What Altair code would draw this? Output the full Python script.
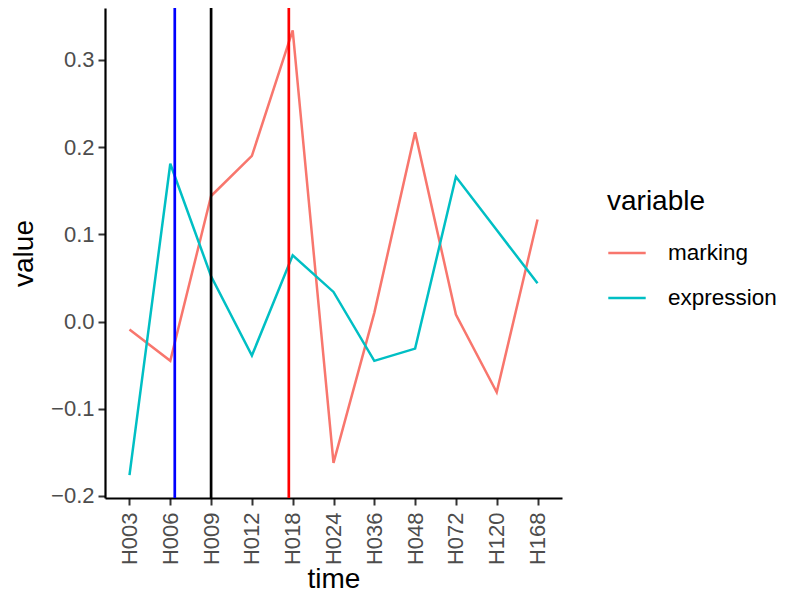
import altair as alt
import pandas as pd

times = ["H003", "H006", "H009", "H012", "H018", "H024", "H036", "H048", "H072", "H120", "H168"]
marking = [-0.009, -0.045, 0.144, 0.190, 0.334, -0.162, 0.010, 0.217, 0.008, -0.081, 0.117]
expression = [-0.176, 0.181, 0.052, -0.039, 0.076, 0.034, -0.045, -0.031, 0.166, 0.105, 0.044]
series = ["marking", "expression"]
colors = ["#F8766D", "#00BFC4"]
vline_pos = [1.11, 2.0, 3.905]
vline_colors = ["blue", "black", "red"]

rows = []
for i, t in enumerate(times):
    rows.append({"idx": i, "time": t, "variable": "marking", "value": marking[i]})
    rows.append({"idx": i, "time": t, "variable": "expression", "value": expression[i]})
df = pd.DataFrame(rows)
vdf = pd.DataFrame({"pos": vline_pos, "col": vline_colors})

label_expr = "[" + ",".join("'%s'" % t for t in times) + "][datum.value]"

x_scale = alt.Scale(domain=[-0.6, 10.6], nice=False, zero=False)
y_scale = alt.Scale(domain=[-0.2023, 0.3596], nice=False, zero=False)

lines = alt.Chart(df).mark_line(strokeWidth=2.5).encode(
    x=alt.X("idx:Q", scale=x_scale,
            axis=alt.Axis(title="time", values=list(range(len(times))), labelExpr=label_expr,
                          labelAngle=270, labelAlign="right", labelBaseline="middle",
                          labelPadding=7, titlePadding=1)),
    y=alt.Y("value:Q", scale=y_scale,
            axis=alt.Axis(title="value", values=[-0.2, -0.1, 0.0, 0.1, 0.2, 0.3], format=".1f",
                          labelPadding=4, titlePadding=12)),
    color=alt.Color("variable:N", scale=alt.Scale(domain=series, range=colors),
                    legend=alt.Legend(title="variable", orient="none", legendX=502, legendY=180,
                                      symbolType="stroke", symbolSize=1400, symbolStrokeWidth=2.5,
                                      rowPadding=13, titlePadding=17, labelOffset=21)),
    detail="variable:N",
)

vlines = alt.Chart(vdf).mark_rule(strokeWidth=2.7).encode(
    x=alt.X("pos:Q", scale=x_scale),
    color=alt.Color("col:N", scale=None, legend=None),
)

chart = alt.layer(lines, vlines).resolve_scale(color="independent").properties(
    width=457, height=490,
    autosize=alt.AutoSizeParams(type="none"),
    padding={"left": 97, "top": 0, "right": 216, "bottom": 97},
).configure_view(stroke=None).configure_axis(
    grid=False,
    domainColor="black", domainWidth=2.2,
    tickColor="#333333", tickWidth=2, tickSize=7,
    labelColor="#4D4D4D", labelFont="Liberation Sans", labelFontSize=22,
    titleColor="black", titleFont="Liberation Sans", titleFontSize=28, titleFontWeight="normal",
).configure_legend(
    titleFont="Liberation Sans", titleFontSize=28, titleFontWeight="normal", titleColor="black",
    labelFont="Liberation Sans", labelFontSize=22.5, labelColor="black",
)

chart.save("out.html", embed_options={"renderer": "svg", "actions": False})
